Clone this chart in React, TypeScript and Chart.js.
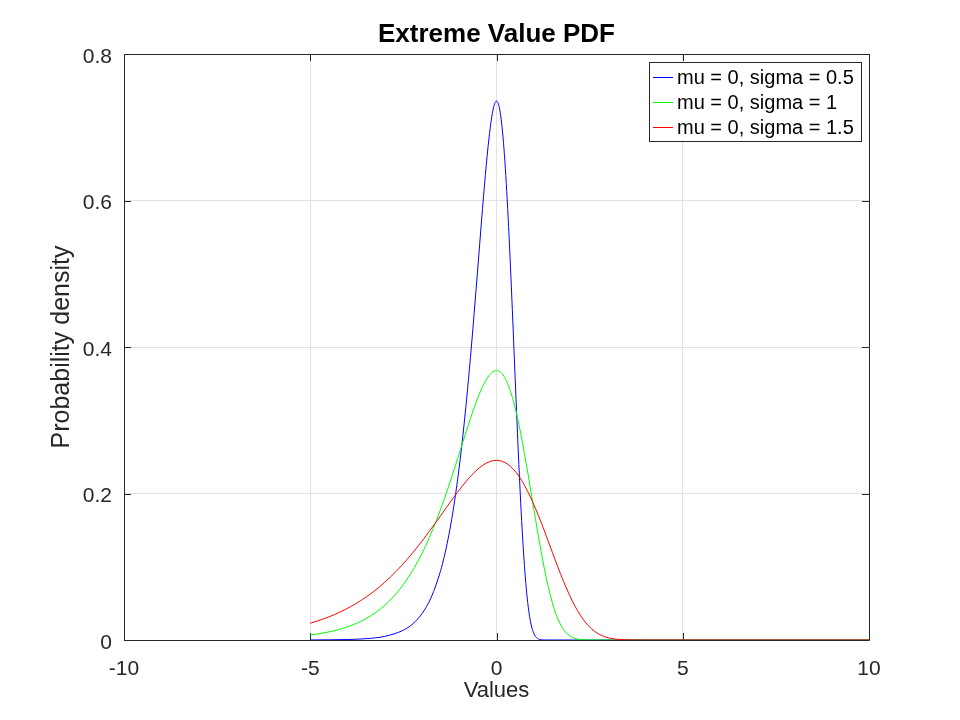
import React, { useEffect, useRef } from "react";
import { Chart, registerables } from "chart.js";

Chart.register(...registerables);

// ---- data ----
const chartTitle = "Extreme Value PDF";
const xAxisLabel = "Values";
const yAxisLabel = "Probability density";
const xTicks = [-10, -5, 0, 5, 10];
const yTicks = [0, 0.2, 0.4, 0.6, 0.8];

const seriesLabels = ["mu = 0, sigma = 0.5", "mu = 0, sigma = 1", "mu = 0, sigma = 1.5"];
const seriesColors = ["#0000ff", "#00ff00", "#ff0000"];

const blueX = [-5, -4.5, -4, -3.5, -3, -2.5, -2.25, -2, -1.75, -1.5, -1.4, -1.3, -1.2, -1.1, -1, -0.9, -0.8, -0.7, -0.6, -0.5, -0.4, -0.3, -0.2, -0.1, 0, 0.1, 0.2, 0.3, 0.4, 0.5, 0.6, 0.7, 0.8, 0.9, 1, 1.1, 1.2, 1.3, 1.5, 10];
const blueY = [0.0001, 0.00025, 0.00067, 0.00182, 0.00495, 0.01339, 0.02197, 0.03597, 0.0586, 0.09474, 0.11444, 0.13791, 0.1657, 0.19837, 0.23641, 0.28023, 0.32997, 0.38541, 0.44574, 0.50929, 0.57338, 0.63402, 0.6858, 0.72209, 0.73576, 0.72016, 0.67114, 0.5892, 0.48076, 0.35876, 0.24004, 0.14057, 0.06996, 0.02854, 0.00913, 0.00217, 0.00036, 0.00004, 0, 0];

const greenX = [-5, -4.5, -4, -3.5, -3, -2.6, -2.2, -2, -1.8, -1.6, -1.4, -1.2, -1, -0.8, -0.6, -0.4, -0.2, 0, 0.2, 0.4, 0.6, 0.8, 1, 1.2, 1.4, 1.6, 1.8, 2, 2.2, 2.4, 2.6, 3, 10];
const greenY = [0.00669, 0.01099, 0.01798, 0.0293, 0.04737, 0.06896, 0.09918, 0.11821, 0.14011, 0.16499, 0.19271, 0.22287, 0.25465, 0.28669, 0.31701, 0.3429, 0.36104, 0.36788, 0.36008, 0.33557, 0.2946, 0.24038, 0.17938, 0.12002, 0.07029, 0.03498, 0.01427, 0.00457, 0.00109, 0.00018, 0.00002, 0, 0];

const redX = [-5, -4.8, -4.5, -4.2, -3.9, -3.6, -3.3, -3, -2.7, -2.4, -2.1, -1.8, -1.5, -1.2, -0.9, -0.6, -0.3, 0, 0.3, 0.6, 0.9, 1.2, 1.5, 1.8, 2.1, 2.4, 2.7, 3, 3.3, 3.6, 3.9, 4.2, 10];
const redY = [0.02295, 0.02609, 0.03158, 0.03815, 0.04597, 0.05523, 0.06612, 0.0788, 0.09341, 0.10999, 0.12847, 0.14858, 0.16976, 0.19113, 0.21134, 0.2286, 0.2407, 0.24525, 0.24005, 0.22373, 0.1964, 0.16025, 0.11959, 0.08001, 0.04686, 0.02332, 0.00951, 0.00304, 0.00072, 0.00012, 0.00001, 0, 0];

const FONT = "'Liberation Sans', Arial, Helvetica, sans-serif";
const AXIS_COLOR = "#262626";

const toPoints = (xs: number[], ys: number[]) => xs.map((x, i) => ({ x, y: ys[i] }));

const framePlugin = {
  id: "frame",
  beforeDatasetsDraw(chart: any) {
    const { ctx, chartArea } = chart;
    const { left, right, top, bottom } = chartArea;
    const xs = chart.scales.x;
    const ys = chart.scales.y;
    const tl = 7;
    ctx.save();
    ctx.strokeStyle = AXIS_COLOR;
    ctx.lineWidth = 1;
    ctx.beginPath();
    ctx.rect(Math.round(left) + 0.5, Math.round(top) + 0.5, Math.round(right - left), Math.round(bottom - top));
    xTicks.forEach((v) => {
      const px = Math.round(xs.getPixelForValue(v)) + 0.5;
      ctx.moveTo(px, bottom);
      ctx.lineTo(px, bottom - tl);
      ctx.moveTo(px, top);
      ctx.lineTo(px, top + tl);
    });
    yTicks.forEach((v) => {
      const py = Math.round(ys.getPixelForValue(v)) + 0.5;
      ctx.moveTo(left, py);
      ctx.lineTo(left + tl, py);
      ctx.moveTo(right, py);
      ctx.lineTo(right - tl, py);
    });
    ctx.stroke();
    ctx.restore();
  },
  afterDatasetsDraw(chart: any) {
    const { ctx, chartArea } = chart;
    ctx.save();
    // title
    ctx.fillStyle = "#000000";
    ctx.font = `bold 26px ${FONT}`;
    ctx.textAlign = "center";
    ctx.textBaseline = "middle";
    ctx.fillText(chartTitle, (chartArea.left + chartArea.right) / 2, 35);
    // legend
    const w = 212;
    const h = 79;
    const bx = Math.round(chartArea.right) - 8 - w;
    const by = Math.round(chartArea.top) + 8;
    ctx.fillStyle = "#ffffff";
    ctx.fillRect(bx, by, w, h);
    ctx.strokeStyle = AXIS_COLOR;
    ctx.lineWidth = 1;
    ctx.strokeRect(bx + 0.5, by + 0.5, w, h);
    ctx.font = `20px ${FONT}`;
    ctx.textAlign = "left";
    ctx.textBaseline = "middle";
    const rows = [15, 40, 65];
    seriesLabels.forEach((label, i) => {
      const ry = by + rows[i];
      ctx.fillStyle = seriesColors[i];
      ctx.fillRect(bx + 4, ry, 20, 1);
      ctx.fillStyle = "#000000";
      ctx.fillText(label, bx + 28, ry + 1);
    });
    ctx.restore();
  },
};

export default function App() {
  const canvasRef = useRef<HTMLCanvasElement | null>(null);

  useEffect(() => {
    document.body.style.margin = "0";
    const canvas = canvasRef.current;
    if (!canvas) return;
    const seriesData = [toPoints(blueX, blueY), toPoints(greenX, greenY), toPoints(redX, redY)];
    const chart = new Chart(canvas, {
      type: "line",
      data: {
        datasets: seriesData.map((d, i) => ({
          label: seriesLabels[i],
          data: d,
          borderColor: seriesColors[i],
          backgroundColor: seriesColors[i],
          borderWidth: 1,
          pointRadius: 0,
          fill: false,
          cubicInterpolationMode: "monotone" as const,
          order: 3 - i,
        })),
      },
      options: {
        animation: false,
        responsive: false,
        devicePixelRatio: 1,
        layout: { padding: { top: 54, right: 91, left: 0, bottom: 0 } },
        plugins: {
          legend: { display: false },
          title: { display: false },
          tooltip: { enabled: false },
        },
        scales: {
          x: {
            type: "linear",
            min: -10,
            max: 10,
            afterFit: (s: any) => {
              s.height = 80;
            },
            afterBuildTicks: (s: any) => {
              s.ticks = xTicks.map((v) => ({ value: v }));
            },
            ticks: {
              color: AXIS_COLOR,
              font: { family: FONT, size: 21 },
              padding: 17,
              maxRotation: 0,
              callback: (v: any) => String(v),
            },
            grid: { color: "#e2e2e2", drawTicks: false },
            border: { display: false },
            title: {
              display: true,
              text: xAxisLabel,
              color: AXIS_COLOR,
              font: { family: FONT, size: 22 },
              padding: { top: 0, bottom: 16 },
            },
          },
          y: {
            type: "linear",
            min: 0,
            max: 0.8,
            afterFit: (s: any) => {
              s.width = 124;
            },
            afterBuildTicks: (s: any) => {
              s.ticks = yTicks.map((v) => ({ value: v }));
            },
            ticks: {
              color: AXIS_COLOR,
              font: { family: FONT, size: 21 },
              padding: 12,
              labelOffset: 3,
              callback: (v: any) => String(Math.round(Number(v) * 10) / 10),
            },
            grid: { color: "#e2e2e2", drawTicks: false },
            border: { display: false },
            title: {
              display: true,
              text: yAxisLabel,
              color: AXIS_COLOR,
              font: { family: FONT, size: 25 },
              padding: { top: 47, bottom: 0 },
            },
          },
        },
      },
      plugins: [framePlugin],
    });
    return () => chart.destroy();
  }, []);

  return (
    <div style={{ width: 960, height: 720, background: "#ffffff" }}>
      <canvas ref={canvasRef} width={960} height={720} style={{ display: "block" }} />
    </div>
  );
}
